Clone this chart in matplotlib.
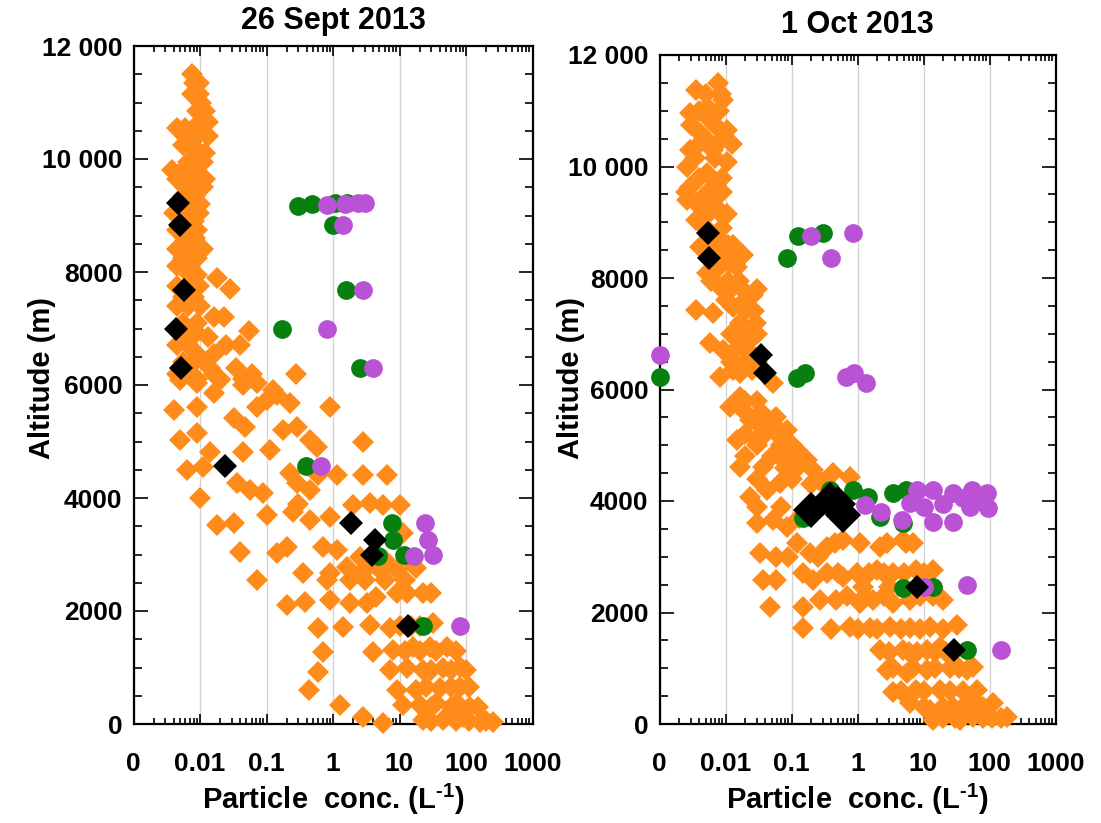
import matplotlib
matplotlib.use("Agg")
import matplotlib.pyplot as plt
from matplotlib.ticker import FixedLocator, LogLocator, NullFormatter, MultipleLocator, FuncFormatter

plt.rcParams['font.family'] = ['Liberation Sans', 'DejaVu Sans']
plt.rcParams['font.weight'] = 'bold'
plt.rcParams['mathtext.fontset'] = 'custom'
plt.rcParams['mathtext.rm'] = 'Liberation Sans:bold'
plt.rcParams['mathtext.it'] = 'Liberation Sans:bold'
plt.rcParams['mathtext.bf'] = 'Liberation Sans:bold'

# ---------------- data ----------------
titles = ["26 Sept 2013", "1 Oct 2013"]
x_tick_values = [1e-3, 1e-2, 1e-1, 1, 10, 100, 1000]
x_tick_labels = ["0", "0.01", "0.1", "1", "10", "100", "1000"]

# 26 Sept 2013 - orange diamonds (altitude level -> concentrations)
sep_orange_levels = [11500, 11350, 11150, 11000, 10850, 10650, 10550, 10400, 10250, 10100,
                     9950, 9800, 9650, 9500, 9350, 9200, 9050, 8900, 8750, 8600,
                     8400, 8250, 8100, 7950, 7900, 7750, 7700, 7550, 7400, 7200,
                     7100, 6950, 6850, 6700, 6550, 6400, 6300, 6200, 6100, 5912,
                     6089, 6030, 6000, 5853, 5823, 5735, 5676, 5617, 5558, 5410,
                     5263, 5204, 5145, 5027, 4998, 4909, 4850, 4820, 4555, 4496,
                     4437, 4400, 4407, 4260, 4142, 4083, 3995, 3906, 3900, 3877,
                     3759, 3700, 3670, 3611, 3552, 3522, 3375, 3139, 3080, 3050,
                     3021, 2962, 2900, 2785, 2756, 2726, 2697, 2679, 2667, 2549,
                     2313, 2254, 2195, 2166, 2136, 2107, 1782, 1752, 1740, 1723,
                     1693, 1369, 1310, 1300, 1280, 1015, 985, 956, 926, 661,
                     650, 632, 602, 366, 337, 307, 300, 130, 71, 50, 41, 12]
sep_orange_concs = [[0.0075], [0.008, 0.0095], [0.0075, 0.0095], [0.0105], [0.012, 0.009],
                    [0.013, 0.01], [0.0045, 0.006, 0.008], [0.006, 0.009, 0.013], [0.0055, 0.0075], [0.009, 0.012],
                    [0.008, 0.011, 0.0065], [0.0038, 0.0055, 0.0085], [0.0045, 0.007, 0.012], [0.006, 0.009, 0.011], [0.0055, 0.0085],
                    [0.0075, 0.010], [0.004, 0.006, 0.0095], [0.0055, 0.008], [0.0045, 0.0065, 0.009], [0.006, 0.0085],
                    [0.0045, 0.007, 0.011], [0.0055, 0.009], [0.0045, 0.0065], [0.007, 0.009], [0.018],
                    [0.0045, 0.0095], [0.028], [0.0055, 0.008], [0.0045, 0.0065, 0.01], [0.016, 0.023],
                    [0.0055, 0.009], [0.0055, 0.0085, 0.055], [0.013, 0.0075], [0.0045, 0.0065, 0.025, 0.04], [0.009, 0.016],
                    [0.0055, 0.008, 0.012], [0.035, 0.014], [0.0045, 0.0065, 0.016, 0.06, 0.28], [0.009, 0.045, 0.02], [0.127],
                    [0.005, 0.02], [0.0089, 0.071], [0.045], [0.016], [0.142],
                    [0.10], [0.225], [0.0089, 0.071, 0.9], [0.004], [0.032],
                    [0.047, 0.284], [0.179], [0.0089], [0.005, 0.45], [2.86],
                    [0.57], [0.113], [0.014, 0.045], [0.0112], [0.0063],
                    [0.225], [0.6], [1.13, 2.86, 6.4], [0.036, 0.284], [0.056, 0.45],
                    [0.09], [0.01], [3.6], [0.3], [2.0, 5.7, 10.2],
                    [0.25], [0.10], [0.9], [0.45], [0.032],
                    [0.018], [11.4], [0.2, 0.715], [1.13], [0.04],
                    [0.142], [2.54], [3.5, 6.0, 14.0], [1.6], [18.0],
                    [5.08, 9.06], [2.86], [0.357], [0.9], [0.071, 0.8, 1.8, 3.0, 6.0, 12.0],
                    [9.06, 13.0, 22.8, 30.0], [4.5], [0.9], [0.38], [1.8, 3.2],
                    [0.2], [32.0], [3.6], [10.0, 15.0, 20.0], [1.43],
                    [0.6, 7.2], [16.0, 28.7, 51.0], [8.1], [12.0, 20.0, 35.0, 70.0], [0.715, 4.0],
                    [81.0], [12.8, 45.6], [7.2, 22.8, 30.0, 60.0, 100.0], [0.6], [81.0],
                    [25.0, 60.0, 110.0], [40.6], [0.43, 9.1, 18.0], [36.0, 72.0], [1.27, 11.4, 20.0],
                    [115.0], [30.0, 60.0, 150.0], [2.86, 91.0], [22.8, 45.6], [30.0, 70.0, 110.0, 200.0], [162.0, 257.0], [5.7]]

sep_green_conc = [0.30, 0.48, 1.07, 1.6, 1.0, 1.58, 0.17, 2.56, 0.39, 7.6, 8.1, 4.8, 11.5, 22.9]
sep_green_alt = [9160, 9200, 9220, 9230, 8830, 7680, 6990, 6300, 4570, 3550, 3260, 2980, 2990, 1735]
sep_purple_conc = [0.80, 1.5, 2.4, 3.0, 1.43, 2.85, 0.80, 4.0, 0.65, 24.0, 26.5, 32.0, 16.7, 80.0]
sep_purple_alt = [9180, 9200, 9220, 9230, 8830, 7680, 6990, 6300, 4570, 3550, 3260, 2990, 2980, 1735]
sep_black_conc = [0.0046, 0.005, 0.0057, 0.0043, 0.0052, 0.024, 1.86, 4.3, 3.8, 13.5]
sep_black_alt = [9220, 8830, 7680, 7000, 6300, 4570, 3560, 3260, 2990, 1735]

# 1 Oct 2013 - orange diamonds
oct_orange_levels = [11494, 11374, 11300, 11195, 11075, 11000, 10955, 10836, 10750, 10656,
                     10597, 10500, 10400, 10297, 10150, 10088, 9999, 9879, 9800, 9640,
                     9550, 9460, 9400, 9300, 9161, 9150, 9042, 8900, 8683, 8600,
                     8563, 8450, 8414, 8264, 8200, 8085, 7950, 7846, 7800, 7696,
                     7600, 7487, 7427, 7400, 7367, 7188, 7000, 6889, 6829, 6709,
                     6700, 6500, 6350, 6291, 6231, 6111,
                     5872, 5800, 5693, 5600, 5513, 5453, 5400, 5334, 5274, 5200,
                     5095, 5000, 4915, 4800, 4736, 4616, 4600, 4556, 4497, 4437,
                     4400, 4317, 4300, 4198, 4078, 3900, 3700, 3660, 3600, 3540,
                     3301, 3250, 3241, 3181, 3061, 3002, 3000, 2762, 2703, 2700,
                     2643, 2583, 2450, 2300, 2224, 2164, 2104, 1776, 1746, 1716,
                     1700, 1387, 1327, 1300, 1028, 1000, 968, 909, 610, 600,
                     580, 430, 370, 311, 300, 251, 131, 100, 71]
oct_orange_concs = [[0.0078], [0.0036], [0.005, 0.0085], [0.0093], [0.0052], [0.004, 0.008], [0.0029], [0.0058], [0.003, 0.007], [0.0104],
                    [0.0041], [0.005, 0.009], [0.004, 0.0125], [0.0029, 0.0065], [0.0035, 0.007], [0.0104], [0.0026], [0.0052], [0.004, 0.009], [0.0029, 0.0065],
                    [0.0025, 0.006, 0.009], [0.0046], [0.0026], [0.004, 0.007], [0.0083], [0.0055, 0.0105], [0.0036], [0.005, 0.009], [0.0083], [0.006, 0.011, 0.013],
                    [0.0041], [0.009], [0.0187], [0.0117], [0.008, 0.015], [0.0052], [0.006, 0.011, 0.016], [0.0083], [0.012, 0.018, 0.03], [0.026],
                    [0.01, 0.02], [0.0131], [0.0036], [0.02, 0.027], [0.0065], [0.0166, 0.029], [0.012, 0.02, 0.03], [0.0166, 0.0235], [0.0058], [0.0093],
                    [0.014, 0.022], [0.012, 0.02, 0.03], [0.025, 0.013], [0.0166], [0.0083], [0.053],
                    [0.0166], [0.02, 0.03], [0.0117], [0.02, 0.035], [0.059], [0.0235], [0.03, 0.05], [0.042], [0.0845], [0.02, 0.04, 0.06],
                    [0.0148, 0.029], [0.03, 0.07, 0.1], [0.12], [0.02, 0.05, 0.1], [0.075, 0.17], [0.0166, 0.037], [0.08, 0.12], [0.214], [0.43], [0.77],
                    [0.03, 0.1, 0.25], [0.067], [0.2, 0.3], [0.042], [0.0235], [0.03, 0.07], [0.13], [0.053], [0.03], [0.0845],
                    [0.61, 4.9], [0.45, 2.8, 5.5], [0.12, 1.09, 7.0], [0.34, 2.19], [0.033, 0.19], [0.059], [0.09, 0.25], [1.97, 7.8, 14.1], [0.34, 0.97, 3.49], [0.15, 0.5, 1.5, 2.5, 5.0, 10.0],
                    [0.61], [0.037, 0.059, 0.214], [1.2, 3.0], [0.7, 1.3, 2.5, 9.0, 14.0], [0.27, 0.48, 1.74, 6.2, 20.0], [1.09, 3.49], [0.047, 0.15], [32.0], [0.77, 3.1, 12.6], [0.15, 1.55, 6.2],
                    [0.4, 1.0, 2.0, 4.5, 9.0, 20.0], [17.8], [2.19, 4.9, 11.2], [3.0, 6.0, 8.0, 15.0, 22.0], [57.0], [3.5, 7.0, 15.0, 25.0, 35.0], [2.77, 11.2, 45.0], [5.56], [7.8, 17.8, 64.0], [4.5, 10.0, 25.0, 40.0],
                    [3.49], [57.0], [6.2, 114.0], [28.0], [10.0, 20.0, 40.0, 80.0], [12.6], [57.0, 182.0], [20.0, 30.0, 80.0, 110.0, 150.0], [14.0, 36.0]]

oct_green_conc = [0.127, 0.297, 0.0845, 0.001, 0.12, 0.16,
                  0.15, 0.25, 0.38, 0.86, 1.44, 2.2, 3.5, 4.9, 5.5,
                  4.9, 14.1, 46.0]
oct_green_alt = [8755, 8815, 8354, 6219, 6200, 6290,
                 3696, 3900, 4198, 4198, 4078, 3719, 4138, 3600, 4198,
                 2434, 2463, 1327]
oct_purple_conc = [0.2, 0.865, 0.39, 0.001, 0.66, 0.9, 1.35,
                   1.3, 2.3, 4.7, 7.9, 6.2, 13.9, 13.9, 28.0, 28.0, 50.0, 91.0, 95.0, 55.0, 10.0, 20.0, 40.0, 70.0,
                   10.0, 45.0, 150.0]
oct_purple_alt = [8755, 8815, 8354, 6620, 6231, 6291, 6111,
                  3929, 3809, 3660, 4198, 3959, 4198, 3630, 3630, 4138, 3899, 4138, 3869, 4198, 3900, 3950, 4050, 4000,
                  2463, 2493, 1327]
oct_black_conc = [0.0055, 0.0056, 0.035, 0.039, 7.9, 29.4]
oct_black_alt = [8800, 8354, 6620, 6291, 2460, 1330]
oct_bigblack_conc = [0.2, 0.38, 0.5, 0.61]
oct_bigblack_alt = [3840, 4020, 3950, 3750]

# ---------------- styling ----------------
ORANGE = "#FF8C1A"
GREEN = "#08800F"
PURPLE = "#BA52D6"
BLACK = "#000000"


def expand(levels, concs):
    xs, ys = [], []
    for lev, cs in zip(levels, concs):
        for c in cs:
            xs.append(c)
            ys.append(lev)
    return xs, ys


def yfmt(v, pos):
    v = int(round(v))
    if v >= 10000:
        return "%d %03d" % (v // 1000, v % 1000)
    return "%d" % v


fig = plt.figure(figsize=(11.01, 8.23), dpi=100)
W, H = 1101.0, 823.0
axL = fig.add_axes([133.5 / W, 1 - 724 / H, 399 / W, 678 / H])
axR = fig.add_axes([659.5 / W, 1 - 724 / H, 396 / W, 669 / H])

panels = [
    (axL, expand(sep_orange_levels, sep_orange_concs), (sep_green_conc, sep_green_alt),
     (sep_purple_conc, sep_purple_alt), (sep_black_conc, sep_black_alt), None),
    (axR, expand(oct_orange_levels, oct_orange_concs), (oct_green_conc, oct_green_alt),
     (oct_purple_conc, oct_purple_alt), (oct_black_conc, oct_black_alt),
     (oct_bigblack_conc, oct_bigblack_alt)),
]
title_pads = [12, 15.5]
ylabel_x = [(56 - 133.5) / 399.0, (585 - 659.5) / 396.0]
ylabel_y = [(724 - 378) / 678.0, (724 - 378) / 669.0]

for i, (ax, orange, green, purple, black, bigblack) in enumerate(panels):
    ax.set_xscale('log')
    ax.set_xlim(1e-3, 1e3)
    ax.set_ylim(0, 12000)
    ax.plot(orange[0], orange[1], 'D', color=ORANGE, ms=11, mew=0, ls='none', zorder=3, clip_on=False)
    ax.plot(green[0], green[1], 'o', color=GREEN, ms=13.5, mew=0, ls='none', zorder=4, clip_on=False)
    ax.plot(purple[0], purple[1], 'o', color=PURPLE, ms=13.5, mew=0, ls='none', zorder=5, clip_on=False)
    ax.plot(black[0], black[1], 'D', color=BLACK, ms=12.5, mew=0, ls='none', zorder=6, clip_on=False)
    if bigblack is not None:
        ax.plot(bigblack[0], bigblack[1], 'D', color=BLACK, ms=18.5, mew=0, ls='none', zorder=6, clip_on=False)

    ax.xaxis.set_major_locator(FixedLocator(x_tick_values))
    ax.set_xticklabels(x_tick_labels)
    ax.xaxis.set_minor_locator(LogLocator(base=10, subs=[2, 3, 4, 5, 6, 7, 8, 9], numticks=20))
    ax.xaxis.set_minor_formatter(NullFormatter())
    ax.yaxis.set_major_locator(MultipleLocator(2000))
    ax.yaxis.set_minor_locator(MultipleLocator(500))
    ax.yaxis.set_major_formatter(FuncFormatter(yfmt))

    ax.grid(axis='x', which='major', color='#d3d3d3', lw=1.0, zorder=0)
    ax.set_axisbelow(True)
    ax.tick_params(which='both', direction='in', top=True, right=True, width=1.2, colors='black')
    ax.tick_params(axis='x', which='major', length=7, labelsize=19, pad=20)
    ax.tick_params(axis='x', which='minor', length=4)
    ax.tick_params(axis='y', which='major', length=10, labelsize=19, pad=8)
    ax.tick_params(axis='y', which='minor', length=6)
    for lab in ax.get_xticklabels() + ax.get_yticklabels():
        lab.set_fontweight('bold')
    for sp in ax.spines.values():
        sp.set_linewidth(1.6)
        sp.set_zorder(2.5)

    ax.set_title(titles[i], fontsize=22, fontweight='bold', pad=title_pads[i])
    ax.set_xlabel(r"Particle  conc. (L$^{\text{-1}}$)", fontsize=21, fontweight='bold', labelpad=4)
    ax.set_ylabel("Altitude (m)", fontsize=21, fontweight='bold')
    ax.yaxis.set_label_coords(ylabel_x[i], ylabel_y[i])

fig.savefig("out.png", dpi=100)
